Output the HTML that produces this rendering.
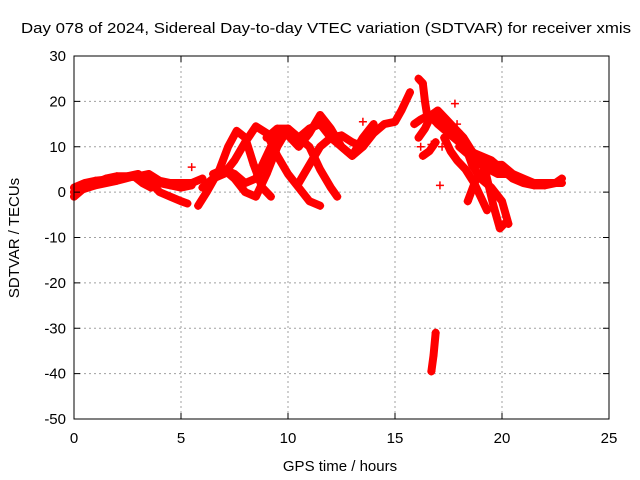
<!DOCTYPE html>
<html><head><meta charset="utf-8"><style>
body{margin:0;background:#fff}
svg{display:block;font-family:"Liberation Sans",sans-serif}
</style></head><body>
<svg id="chart" width="640" height="480">
<rect width="640" height="480" fill="#fff"/>
<text x="326" y="33" font-size="15" text-anchor="middle" textLength="610" lengthAdjust="spacingAndGlyphs">Day 078 of 2024, Sidereal Day-to-day VTEC variation (SDTVAR) for receiver xmis</text>
<text x="340" y="471" font-size="15" text-anchor="middle">GPS time / hours</text>
<text transform="translate(19,238) rotate(-90)" font-size="15" text-anchor="middle">SDTVAR / TECUs</text>
<g id="grid"></g>
<g id="marks"></g>
<rect x="74" y="56" width="535" height="363" fill="none" stroke="#000"/>
<g id="ticks"></g>
</svg>
<script>
const xTicks=[0,5,10,15,20,25];
const yTicks=[-50,-40,-30,-20,-10,0,10,20,30];
const traceA=[[0,-1],[0.5,1],[1,2],[1.5,3],[2,3.5],[2.5,3.5],[3,4],[3.5,2.5],[4,0],[4.5,-1],[5,-2],[5.3,-2.5]];
const traceB=[[0,1],[0.5,2],[1,2.5],[2,3],[3,3.5],[3.5,4],[4,2.5],[4.5,2],[5,2],[5.5,2],[6,3]];
const traceC=[[0,0],[1,1.5],[2,2.5],[2.8,3.5],[3.2,2],[3.6,1],[4,2],[4.5,1.5],[5,1],[5.5,1.5]];
const traceD=[[5.8,-3],[6.2,0],[6.8,5],[7.2,10],[7.6,13.5],[8,12],[8.4,6],[8.8,1],[9.2,-1]];
const traceE=[[6,1],[6.5,3],[7,4],[7.5,7],[8,11],[8.5,14.5],[9,13],[9.5,8],[10,4],[10.5,1],[11,-2],[11.5,-3]];
const traceF=[[6.5,4],[7,5],[7.5,3],[8,0],[8.5,-1],[9,4],[9.5,10],[10,14],[10.5,12],[11,10],[11.5,5],[12,1],[12.3,-1]];
const traceG=[[7,5],[7.5,4],[8,2],[8.5,3],[9,8],[9.5,13],[10,12.5],[10.5,10],[11,13],[11.5,17],[12,14],[12.5,10],[13,8],[13.5,10],[14,13],[14.5,15],[15,15.5],[15.3,18],[15.7,22]];
const traceH=[[9,12],[9.5,14],[10,14],[10.5,12],[11,14],[11.5,15],[12,12],[12.5,10],[13,8],[13.5,12],[14,15]];
const traceI=[[10.5,2],[11,6],[11.5,10],[12,12],[12.5,12.5],[13,11],[13.5,10]];
const traceJ=[[16.1,25],[16.3,24],[16.4,20],[16.5,17],[16.8,16],[17,15]];
const traceK=[[15.9,15],[16.2,16],[16.6,17],[17,16],[17.5,14],[18,13],[18.3,10],[18.6,6],[19,3],[19.5,1],[20,-2],[20.3,-7]];
const traceL=[[17,15],[17.5,13],[18,11],[18.5,9],[19,8],[19.5,7],[20,5],[20.5,3],[21,2],[21.5,1.5],[22,1.5],[22.5,2],[22.8,3]];
const traceM=[[18,10],[18.5,8],[19,6],[19.5,6],[20,6],[20.5,4],[21,3],[21.5,2],[22,2],[22.8,2]];
const traceN=[[16.7,-39.5],[16.8,-36],[16.9,-31]];
const traceO=[[18.4,-2],[18.8,3],[19.2,5],[19.6,-3],[19.9,-8],[20.1,-7]];
const traceQ=[[16.1,12],[16.4,14],[16.7,17],[17,18],[17.4,16],[17.8,14],[18.2,12],[18.6,9],[19,7],[19.4,5],[19.8,4],[20.2,4]];
const traceR=[[17.3,12],[17.6,9],[17.9,7],[18.3,5],[18.7,2],[19,-1],[19.3,-4]];
const traceS=[[16.3,8],[16.6,9],[16.9,11]];
const scatterP=[[17.8,19.5],[17.9,15],[18.1,11],[17.2,10],[16.7,10.5],[17.1,1.5],[16.2,10],[13.5,15.5],[5.5,5.5]];
const traces=[traceA,traceB,traceC,traceD,traceE,traceF,traceG,traceH,traceI,traceJ,traceK,traceL,traceM,traceN,traceO,traceQ,traceR,traceS];

const X0=74,X1=609,Y0=419,Y1=56;
function sx(h){return X0+(h-0)/(25-0)*(X1-X0);}
function sy(v){return Y0-(v-(-50))/(30-(-50))*(Y0-Y1);}
const NS='http://www.w3.org/2000/svg';
function mk(tag,attrs,parent){const e=document.createElementNS(NS,tag);for(const k in attrs)e.setAttribute(k,attrs[k]);parent.appendChild(e);return e;}
const grid=document.getElementById('grid'),ticks=document.getElementById('ticks'),marks=document.getElementById('marks');
xTicks.forEach(t=>{
  const x=sx(t);
  if(t>0&&t<25){const g=mk('line',{x1:x,x2:x,y1:Y1,y2:Y0,stroke:'#a0a0a0','stroke-dasharray':'2,3'},grid);
  
  }
  mk('line',{x1:x,x2:x,y1:Y0,y2:Y0-6,stroke:'#000'},ticks);
  mk('line',{x1:x,x2:x,y1:Y1,y2:Y1+6,stroke:'#000'},ticks);
  const l=mk('text',{x:x,y:Y0+24,'font-size':15,'text-anchor':'middle'},ticks);l.textContent=t;
  
  
});
yTicks.forEach(t=>{
  const y=sy(t);
  if(t>-50&&t<30){const g=mk('line',{x1:X0,x2:X1,y1:y,y2:y,stroke:'#a0a0a0','stroke-dasharray':'2,3'},grid);
  
  }
  mk('line',{x1:X0,x2:X0+6,y1:y,y2:y,stroke:'#000'},ticks);
  mk('line',{x1:X1,x2:X1-6,y1:y,y2:y,stroke:'#000'},ticks);
  const l=mk('text',{x:X0-8,y:y+5,'font-size':15,'text-anchor':'end'},ticks);l.textContent=t;
  
  
});
function plus(h,v){
  const x=sx(h),y=sy(v);
  const p=mk('path',{d:`M${x-4},${y}h8M${x},${y-4}v8`,stroke:'#f00','stroke-width':1.5,fill:'none'},marks);
  
  
}
traces.forEach(tr=>{
  const pl=mk('polyline',{points:tr.map(p=>sx(p[0])+','+sy(p[1])).join(' '),fill:'none',stroke:'#f00','stroke-width':8,'stroke-linejoin':'round','stroke-linecap':'round'},marks);
  
  
  tr.forEach(p=>plus(p[0],p[1]));
});
scatterP.forEach(p=>plus(p[0],p[1]));
</script>
</body></html>
